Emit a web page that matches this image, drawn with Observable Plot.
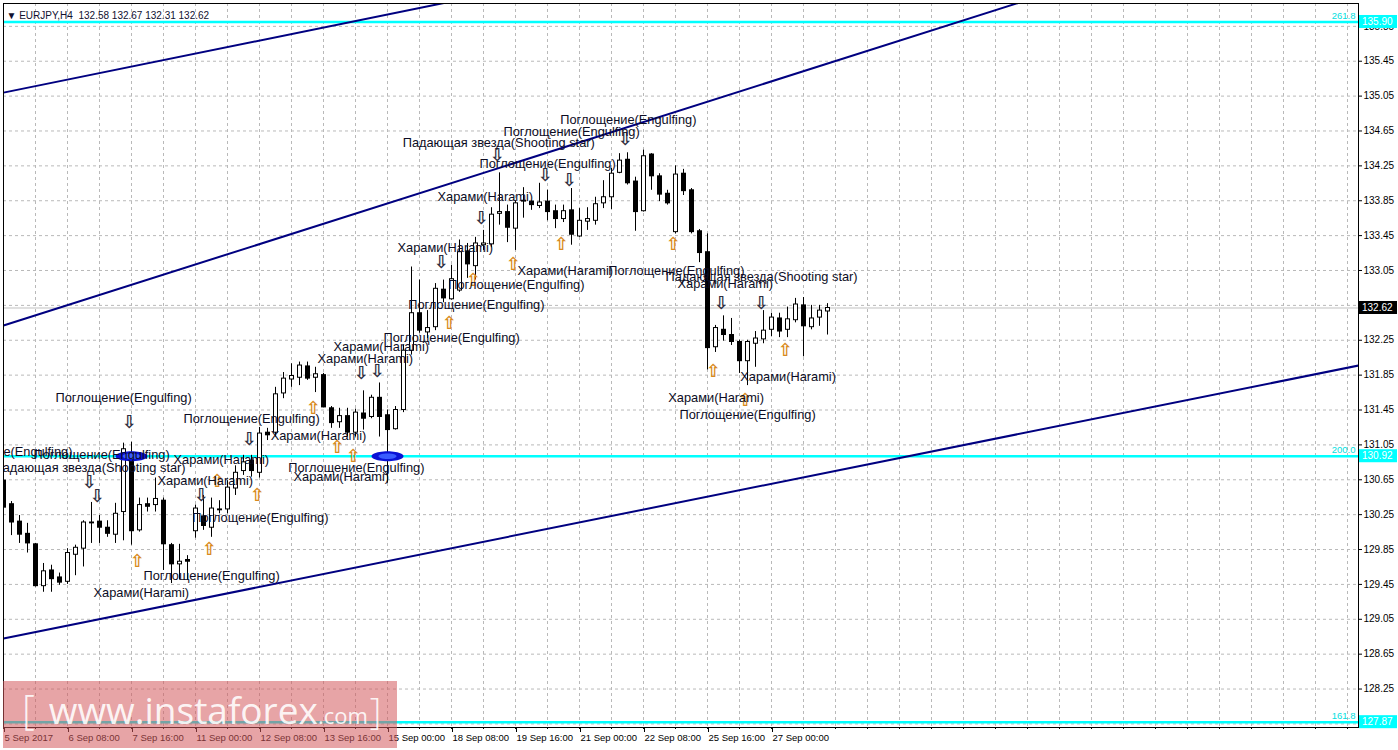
<!DOCTYPE html>
<html><head><meta charset="utf-8">
<script src="https://cdn.jsdelivr.net/npm/d3@7"></script>
<script src="https://cdn.jsdelivr.net/npm/@observablehq/plot@0.6"></script>
<style>
body{margin:0;background:#fff;}
#chart{position:relative;width:1398px;height:750px;overflow:hidden;}
</style></head><body><div id="chart"></div>
<script>
// ---------- data (EURJPY, H4) ----------
const symbolName = "EURJPY,H4";
const opens = [130.64,130.37,130.17,130.03,129.91,129.43,129.61,129.53,129.48,129.79,
129.86,130.15,130.17,130.10,130.02,130.28,130.91,130.07,130.37,130.36,
130.41,129.90,129.68,129.73,130.06,130.23,130.10,130.30,130.31,130.55,
130.75,130.87,130.73,131.19,131.19,131.64,131.80,131.82,131.95,131.82,
131.85,131.47,131.31,131.38,131.19,131.41,131.37,131.59,131.39,131.23,
131.45,132.13,132.56,132.34,132.40,132.83,132.72,132.82,133.27,133.10,
133.34,133.35,133.70,133.72,133.53,133.84,133.84,133.79,133.84,133.73,
133.64,133.74,133.44,133.61,133.62,133.82,133.89,134.17,134.32,134.07,
133.73,134.38,134.13,133.93,133.49,134.16,133.97,133.50,133.26,132.17,
132.37,132.31,132.23,132.01,132.21,132.26,132.37,132.50,132.37,132.48,
132.65,132.40,132.51,132.58];
const highs = [130.70,130.40,130.24,130.15,129.92,129.69,129.67,129.58,129.86,129.90,
130.18,130.39,130.24,130.18,130.38,131.07,131.08,130.44,130.44,130.67,
130.44,129.92,129.91,129.78,130.36,130.47,130.44,130.41,130.64,130.81,
130.93,130.93,131.25,131.24,131.71,131.88,131.98,132.00,132.00,131.94,
131.87,131.49,131.47,131.47,131.46,131.67,131.62,131.76,131.45,131.49,
132.19,133.09,132.94,132.59,132.90,132.94,133.11,133.40,133.36,133.43,
133.51,133.77,134.17,133.80,133.85,134.00,133.85,134.05,133.97,133.80,
133.80,133.99,133.76,133.77,133.89,134.08,134.22,134.39,134.40,134.12,
134.43,134.39,134.16,133.97,134.25,134.21,133.99,133.52,133.47,132.42,
132.53,132.50,132.25,132.25,132.35,132.59,132.56,132.56,132.63,132.73,
132.74,132.65,132.65,132.67];
const lows = [130.28,130.01,129.92,129.81,129.42,129.36,129.36,129.44,129.45,129.55,
129.65,129.92,129.92,129.99,129.92,129.95,129.90,130.05,130.28,130.28,
129.61,129.46,129.50,129.50,129.98,130.07,129.99,130.26,130.26,130.47,
130.70,130.68,130.67,131.10,131.14,131.58,131.71,131.73,131.79,131.65,
131.48,131.24,131.24,131.14,131.14,131.22,131.35,131.14,130.61,131.22,
131.42,132.08,132.33,132.27,132.36,132.68,132.71,132.80,132.96,132.94,
133.28,133.31,133.57,133.37,133.28,133.65,133.74,133.76,133.62,133.53,
133.60,133.34,133.43,133.51,133.57,133.76,133.75,134.16,134.03,133.50,
133.72,133.97,133.84,133.80,133.47,133.91,133.47,133.14,131.91,132.11,
132.24,132.19,131.87,131.73,131.94,132.21,132.29,132.28,132.28,132.45,
132.06,132.37,132.41,132.31];
const closes = [130.33,130.16,130.02,129.92,129.43,129.60,129.51,129.47,129.81,129.87,
130.16,130.16,130.10,130.03,130.26,131.00,130.06,130.36,130.34,130.43,
129.91,129.68,129.71,129.71,130.32,130.12,130.32,130.31,130.56,130.73,
130.85,130.75,131.18,131.16,131.63,131.81,131.84,131.96,131.81,131.86,
131.48,131.30,131.38,131.19,131.42,131.35,131.59,131.37,131.22,131.45,
132.13,132.56,132.36,132.39,132.84,132.73,132.95,133.26,133.12,133.36,
133.36,133.69,133.72,133.54,133.82,133.85,133.80,133.83,133.72,133.64,
133.73,133.46,133.62,133.64,133.81,133.89,134.16,134.31,134.05,133.72,
134.36,134.13,133.92,133.82,134.15,133.96,133.49,133.25,132.16,132.39,
132.31,132.23,132.01,132.23,132.27,132.36,132.51,132.35,132.49,132.66,
132.41,132.50,132.59,132.62];

const xTickBars = [0,8,16,24,32,40,48,56,64,72,80,88,96];
const xTickLabels = ["5 Sep 2017","6 Sep 08:00","7 Sep 16:00","11 Sep 00:00","12 Sep 08:00","13 Sep 16:00",
  "15 Sep 00:00","18 Sep 08:00","19 Sep 16:00","21 Sep 00:00","22 Sep 08:00","25 Sep 16:00","27 Sep 00:00"];
const yTicks = [127.85,128.25,128.65,129.05,129.45,129.85,130.25,130.65,131.05,131.45,131.85,
  132.25,132.65,133.05,133.45,133.85,134.25,134.65,135.05,135.45,135.85];

const fiboLevels = [135.90, 130.92, 127.87];
const fiboNames = ["261.8", "200.0", "161.8"];

// channel / trend lines: [bar, price] end points
const upperLineBars = [0, 60], upperLinePrices = [135.09, 136.21];
const midLineBars = [0, 130], midLinePrices = [132.42, 136.21];
const lowerLineBars = [0, 169.375], lowerLinePrices = [128.83, 131.96];

const ellipseBars = [16, 48];
const ellipsePrices = [130.92, 130.92];

const downArrowBars = [11,12,16,25,31,45,47,55,60,62,68,71,78,90,95];
const downArrowPrices = [130.62,130.46,131.31,130.47,131.12,131.87,131.89,133.14,133.65,134.37,134.14,134.09,134.55,132.68,132.68];
const upArrowBars = [17,26,27,32,39,42,44,56,59,64,70,84,89,93,98];
const upArrowPrices = [129.72,129.85,130.63,130.47,131.47,131.02,130.92,132.44,132.94,133.12,133.35,133.35,131.89,131.56,132.14];

const labelTexts = [
 "Поглощение(Engulfing)","Поглощение(Engulfing)","Поглощение(Engulfing)","Падающая звезда(Shooting star)",
 "Харами(Harami)","Харами(Harami)","Поглощение(Engulfing)","Поглощение(Engulfing)","Харами(Harami)",
 "Поглощение(Engulfing)","Харами(Harami)","Харами(Harami)","Харами(Harami)","Поглощение(Engulfing)",
 "Харами(Harami)","Поглощение(Engulfing)","Поглощение(Engulfing)","Поглощение(Engulfing)","Харами(Harami)",
 "Харами(Harami)","Поглощение(Engulfing)","Харами(Harami)","Поглощение(Engulfing)","Падающая звезда(Shooting star)",
 "Поглощение(Engulfing)","Поглощение(Engulfing)","Падающая звезда(Shooting star)","Харами(Harami)",
 "Харами(Harami)","Харами(Harami)","Поглощение(Engulfing)"];
const labelBars = [6.5,-8.4,3.75,-1.25,21.25,19.25,23.6,17.5,11.25,22.5,33.4,39.25,41.25,35.6,36.25,
 47.5,50.6,55.6,49.25,64.25,75.6,54.25,59.5,49.9,62.5,69.6,82.75,84.25,92.1,83.1,84.5];
const labelPrices = [131.59,130.97,130.93,130.79,130.88,130.64,130.21,129.55,129.35,131.35,131.15,132.04,132.17,
 130.79,130.68,132.28,132.66,132.89,133.31,133.04,133.04,133.89,134.27,134.51,134.64,134.78,132.98,132.90,
 131.83,131.59,131.39];

// ---------- tables ----------
const candles = opens.map((o, i) => ({i, open: o, high: highs[i], low: lows[i], close: closes[i]}));
const whites = candles.filter(d => d.close >= d.open);
const last = candles[candles.length - 1];
const lineRows = (bars, prices) => bars.map((b, k) => ({bar: b, price: prices[k]}));
const ellipses = ellipseBars.map((b, k) => ({bar: b, price: ellipsePrices[k]}));
const downArrows = downArrowBars.map((b, k) => ({bar: b, price: downArrowPrices[k]}));
const upArrows = upArrowBars.map((b, k) => ({bar: b, price: upArrowPrices[k]}));
const labels = labelTexts.map((t, k) => ({text: t, bar: labelBars[k], price: labelPrices[k]}));
const header = "▼ " + symbolName + "  " + [last.open, last.high, last.low, last.close].map(d3.format(".2f")).join(" ");

const ellipseSymbol = {draw(ctx, size) {
  const r = Math.sqrt(size / Math.PI), rx = r * 2, ry = r * 0.62;
  ctx.moveTo(rx, 0);
  for (let k = 1; k < 48; k++) { const a = k / 48 * 2 * Math.PI; ctx.lineTo(rx * Math.cos(a), ry * Math.sin(a)); }
  ctx.closePath();
}};

const W = 1398, H = 750, ML = 3, MR = 40, MT = 3, MB = 23;
const grid = {stroke: "#b9b9b9", strokeOpacity: 1, strokeDasharray: "3,3"};
const navy = {x: "bar", y: "price", stroke: "#000080", strokeWidth: 2, clip: true};

const plot = Plot.plot({
  width: W, height: H,
  marginLeft: ML, marginRight: MR, marginTop: MT, marginBottom: MB,
  x: {domain: [0, 169.375], axis: null},
  y: {domain: [127.809, 136.112], axis: null},
  style: {fontFamily: "'Liberation Sans', Arial, sans-serif", background: "white", color: "black"},
  marks: [
    Plot.gridX(d3.range(0, 169, 4), grid),
    Plot.gridY(yTicks, grid),
    Plot.ruleY([last.close], {stroke: "#c0c0c0"}),
    Plot.ruleY(fiboLevels, {stroke: "#00ffff", strokeWidth: 2.5}),
    Plot.text(fiboLevels, {y: d => d, text: (d, i) => fiboNames[i], frameAnchor: "right", textAnchor: "end",
      dx: -3, dy: -6, fill: "#00e0e0", fontSize: 9.5}),
    Plot.line(lineRows(upperLineBars, upperLinePrices), navy),
    Plot.line(lineRows(midLineBars, midLinePrices), navy),
    Plot.line(lineRows(lowerLineBars, lowerLinePrices), navy),
    Plot.ruleX(candles, {x: "i", y1: "low", y2: "high", stroke: "black", clip: true}),
    Plot.rect(candles, {x1: d => d.i - 0.25, x2: d => d.i + 0.375, y1: "open", y2: "close",
      insetTop: -0.5, insetBottom: -0.5, fill: "black", clip: true}),
    Plot.rect(whites, {x1: d => d.i - 0.25, x2: d => d.i + 0.375, y1: "open", y2: "close",
      insetTop: 0.5, insetBottom: 0.5, insetLeft: 1, insetRight: 1, fill: "white", clip: true}),
    Plot.dot(ellipses, {x: "bar", y: "price", r: 8, symbol: ellipseSymbol, fill: "#0a12d6"}),
    Plot.dot(ellipses, {x: "bar", y: "price", r: 4.5, symbol: ellipseSymbol, fill: "#3a5cff"}),
    Plot.text(downArrows, {x: "bar", y: "price", text: () => "⇩", dx: -2, fontSize: 18, fontWeight: "bold",
      fontFamily: "DejaVu Sans", fill: "#2e2e40"}),
    Plot.text(upArrows, {x: "bar", y: "price", text: () => "⇧", dx: -2, fontSize: 18, fontWeight: "bold",
      fontFamily: "DejaVu Sans", fill: "#d88a20"}),
    Plot.text(labels, {x: "bar", y: "price", text: "text", textAnchor: "start", fontSize: 12.8,
      fill: "#0c0c24", clip: true}),
    Plot.text([header], {text: d => d, frameAnchor: "top-left", dx: 3, dy: 8, textAnchor: "start",
      fontSize: 10, fill: "#101030"}),
    Plot.axisY(yTicks, {anchor: "right", tickFormat: d3.format(".2f"), tickSize: 3, tickPadding: 2,
      fontSize: 10, textAnchor: "start"}),
    Plot.axisX(d3.range(0, 169, 4), {anchor: "bottom", tickSize: 2, tickFormat: () => ""}),
    Plot.axisX(xTickBars, {anchor: "bottom", tickSize: 5, tickPadding: 2, tickFormat: d => xTickLabels[xTickBars.indexOf(d)],
      textAnchor: "start", dx: 1, fontSize: 9.5}),
    Plot.frame({stroke: "black"})
  ]
});

// right-axis value boxes and watermark, placed through the plot's own y scale
const sy = plot.scale("y");
const svg = d3.select(plot);
const boxes = fiboLevels.map(v => ({v, bg: "#00ffff"})).concat([{v: last.close, bg: "black"}]);
for (const b of boxes) {
  const yy = sy.apply(b.v);
  svg.append("rect").attr("x", W - MR + 1).attr("y", yy - 6.5).attr("width", 38).attr("height", 13).attr("fill", b.bg);
  svg.append("text").attr("x", W - MR + 4).attr("y", yy).attr("dy", "0.35em").attr("fill", "white")
    .attr("text-anchor", "start")
    .attr("font-size", 10).attr("font-family", "'Liberation Sans', Arial, sans-serif").text(d3.format(".2f")(b.v));
}
const wm = svg.append("g");
wm.append("rect").attr("x", ML).attr("y", 681).attr("width", 394).attr("height", 67)
  .attr("fill", "#d45a5c").attr("fill-opacity", 0.55);
const wt = wm.append("text").attr("x", 22).attr("y", 724).attr("fill", "white").attr("fill-opacity", 0.9)
  .attr("text-anchor", "start")
  .attr("font-family", "'Open Sans', 'Liberation Sans', sans-serif");
wt.append("tspan").attr("font-size", 40).attr("font-weight", 300).text("[");
wt.append("tspan").attr("font-size", 37).attr("dx", 14).text("www.instaforex");
wt.append("tspan").attr("font-size", 22).text(".com");
wt.append("tspan").attr("font-size", 36).attr("font-weight", 300).attr("dx", 2).text("]");

document.getElementById("chart").appendChild(plot);
</script>
</body></html>
